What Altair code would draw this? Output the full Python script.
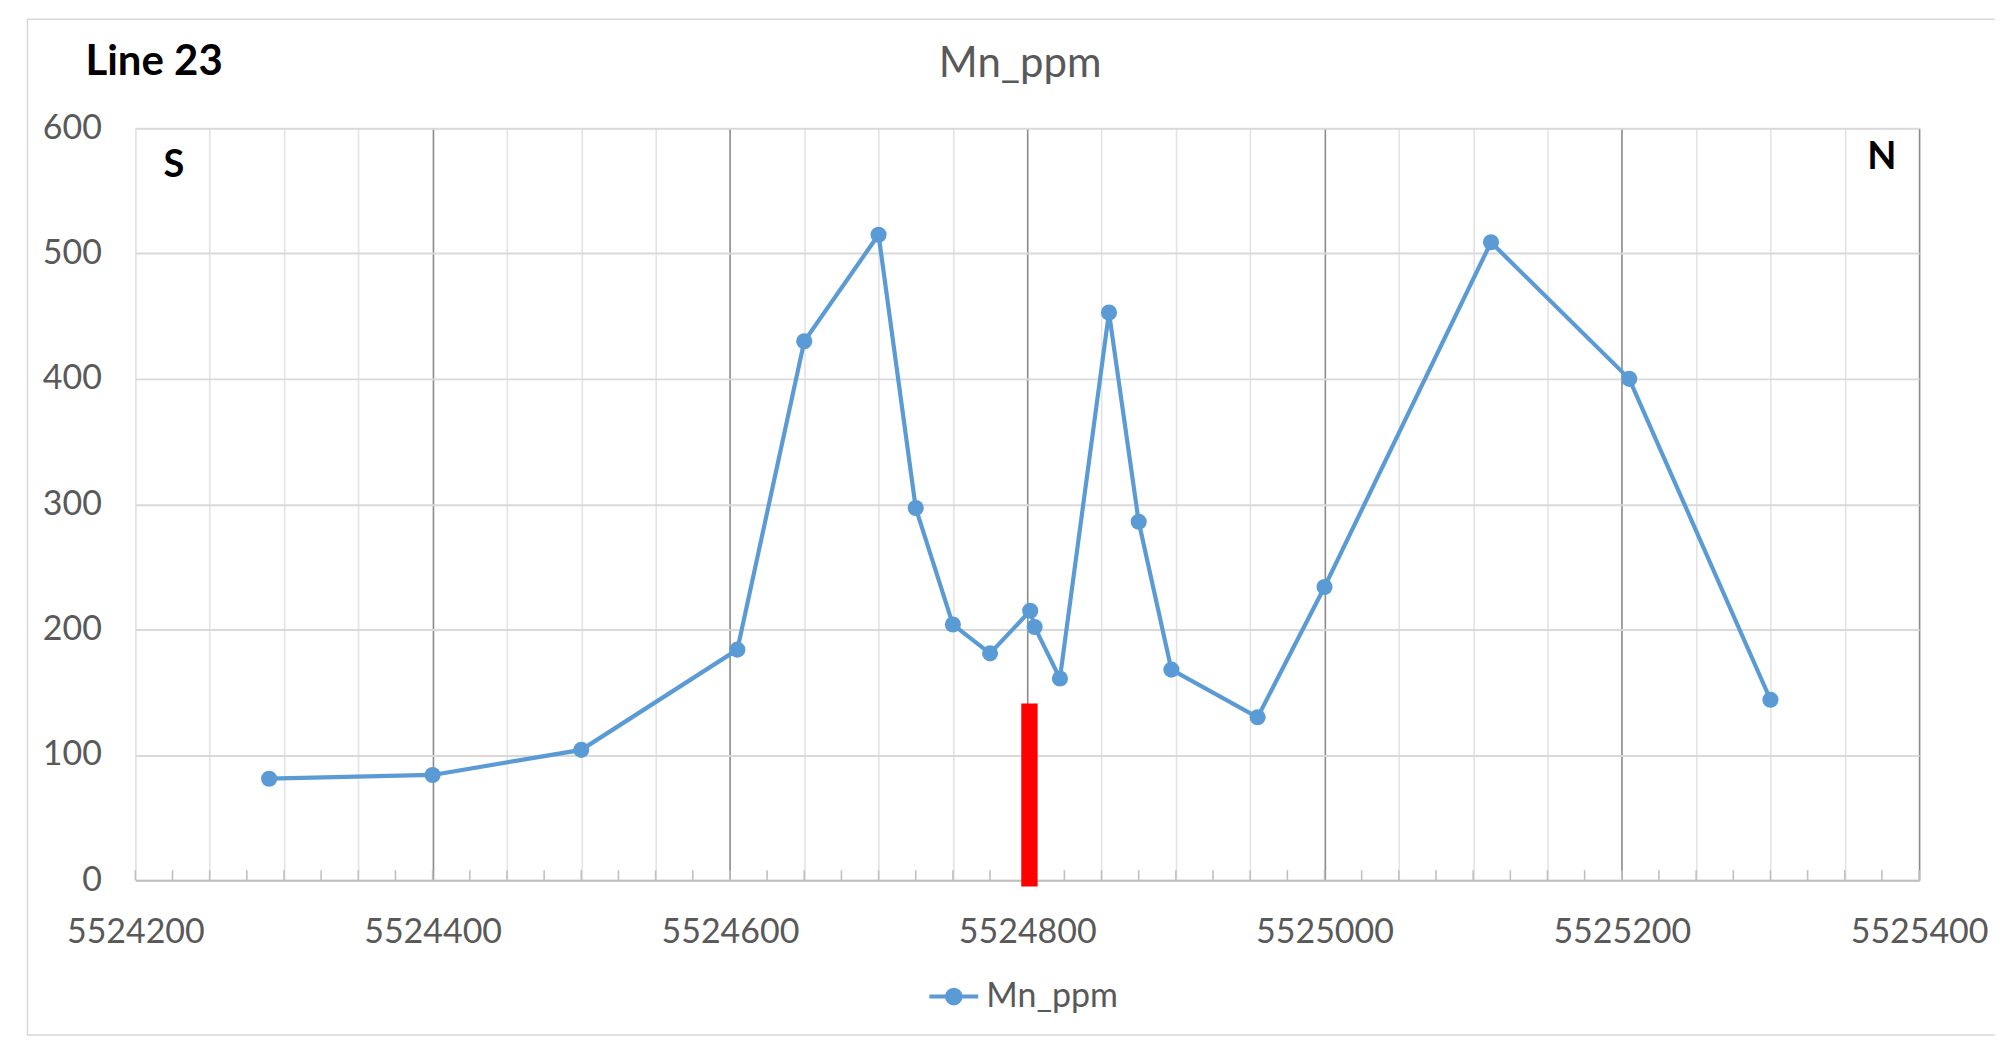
import altair as alt
import pandas as pd

# ---- data ----
easting = [5524290, 5524400, 5524500, 5524605, 5524650, 5524700, 5524725, 5524750,
           5524775, 5524802, 5524805, 5524822, 5524855, 5524875, 5524897, 5524955,
           5525000, 5525112, 5525205, 5525300]
mn_ppm = [81, 84, 104, 184, 430, 515, 297, 204, 181, 215, 202, 161, 453, 286, 168,
          130, 234, 509, 400, 144]
series_name = "Mn_ppm"
chart_title = "Mn_ppm"
line_title = "Line 23"

# red marker bar
marker_x = [5524796]
marker_x2 = [5524807]
marker_y = [-5]
marker_y2 = [141]

# direction labels
dir_text = ["S", "N"]
dir_x = [5524226, 5525375]
dir_y = [570, 576]

x_domain = [5524200, 5525400]
y_domain = [0, 600]
x_grid_values = list(range(5524200, 5525401, 25))
y_values = [0, 100, 200, 300, 400, 500, 600]

BLUE = "#5b9bd5"
GRAY_TXT = "#595959"
FONT = "Lato"
W, H = 1786, 753

df = pd.DataFrame({"easting": easting, "mn": mn_ppm, "series": [series_name] * len(easting)})
df_bar = pd.DataFrame({"x": marker_x, "x2": marker_x2, "y": marker_y, "y2": marker_y2})
df_dir = pd.DataFrame({"t": dir_text, "x": dir_x, "y": dir_y})
df_ticks = pd.DataFrame({"x": x_grid_values, "y0": [0] * len(x_grid_values), "y1": [8] * len(x_grid_values)})
one = pd.DataFrame({"k": [0]})

xscale = alt.Scale(domain=x_domain, nice=False, zero=False)
yscale = alt.Scale(domain=y_domain, nice=False, zero=False)

x_axis = alt.Axis(
    values=x_grid_values,
    grid=True,
    gridColor={"condition": {"test": "datum.value % 200 === 0 && datum.value > 5524200", "value": "#8a8a8a"},
               "value": "#e3e3e3"},
    gridWidth=1.6,
    ticks=False,
    domain=True,
    domainColor="#c0c0c0",
    domainWidth=2,
    labelExpr="datum.value % 200 === 0 ? datum.label : ''",
    format="d",
    labelOverlap=False,
    labelFlush=False,
    labelFontSize=34,
    labelColor=GRAY_TXT,
    labelFont=FONT,
    labelPadding=35,
    title=None,
)
y_axis = alt.Axis(
    values=y_values,
    grid=True,
    gridColor="#d9d9d9",
    gridWidth=2,
    ticks=False,
    domain=False,
    labelFontSize=34,
    labelColor=GRAY_TXT,
    labelFont=FONT,
    labelPadding=34,
    labelFlush=False,
    title=None,
)

frame = alt.Chart(one).mark_rect(fill=None, stroke="#d9d9d9", strokeWidth=1.5).encode(
    x=alt.value(-108), x2=alt.value(1900), y=alt.value(-109), y2=alt.value(908)
)

ticks = alt.Chart(df_ticks).mark_rule(color="#c0c0c0", strokeWidth=1.6).encode(
    x=alt.X("x:Q", scale=xscale, axis=x_axis),
    y=alt.Y("y0:Q", scale=yscale, axis=y_axis),
    y2="y1:Q",
)

bar = alt.Chart(df_bar).mark_rect(color="#ff0000").encode(
    x=alt.X("x:Q", scale=xscale), x2="x2:Q",
    y=alt.Y("y:Q", scale=yscale), y2="y2:Q",
)

legend_path = "M-1,0H1M0.28,0A0.28,0.28,0,1,1,-0.28,0A0.28,0.28,0,1,1,0.28,0Z"
line = alt.Chart(df).mark_line(strokeWidth=4.2).encode(
    x=alt.X("easting:Q", scale=xscale),
    y=alt.Y("mn:Q", scale=yscale),
    color=alt.Color(
        "series:N",
        scale=alt.Scale(domain=[series_name], range=[BLUE]),
        legend=alt.Legend(
            title=None,
            orient="none",
            legendX=793,
            legendY=843,
            direction="horizontal",
            labelFontSize=34,
            labelFont=FONT,
            labelColor=GRAY_TXT,
            labelOffset=6,
            padding=0,
            symbolType=legend_path,
            symbolSize=2401,
            symbolFillColor=BLUE,
            symbolStrokeColor=BLUE,
            symbolStrokeWidth=4,
            symbolOpacity=1,
        ),
    ),
)

points = alt.Chart(df).mark_circle(size=260, color=BLUE, opacity=1).encode(
    x=alt.X("easting:Q", scale=xscale),
    y=alt.Y("mn:Q", scale=yscale),
)

dirs = alt.Chart(df_dir).mark_text(font=FONT, fontSize=38, fontWeight="bold", color="#000000",
                                   align="center", baseline="middle").encode(
    x=alt.X("x:Q", scale=xscale), y=alt.Y("y:Q", scale=yscale), text="t:N"
)

line_label = alt.Chart(one).mark_text(text=line_title, font=FONT, fontSize=42, fontWeight="bold",
                                      color="#000000", align="left", baseline="alphabetic").encode(
    x=alt.value(-50), y=alt.value(-53)
)

title_text = alt.Chart(one).mark_text(text=chart_title, font=FONT, fontSize=42, fontWeight="normal",
                                      color=GRAY_TXT, align="center", baseline="alphabetic").encode(
    x=alt.value(886), y=alt.value(-51)
)

chart = alt.layer(frame, ticks, bar, line, points, dirs, line_label, title_text).properties(
    width=W,
    height=H,
    autosize=alt.AutoSizeParams(type="none"),
    padding={"left": 127.5, "top": 119.7, "right": 76, "bottom": 157},
).configure_view(stroke=None).configure(font=FONT)

chart.save("out.html", embed_options={"renderer": "svg", "actions": False})
